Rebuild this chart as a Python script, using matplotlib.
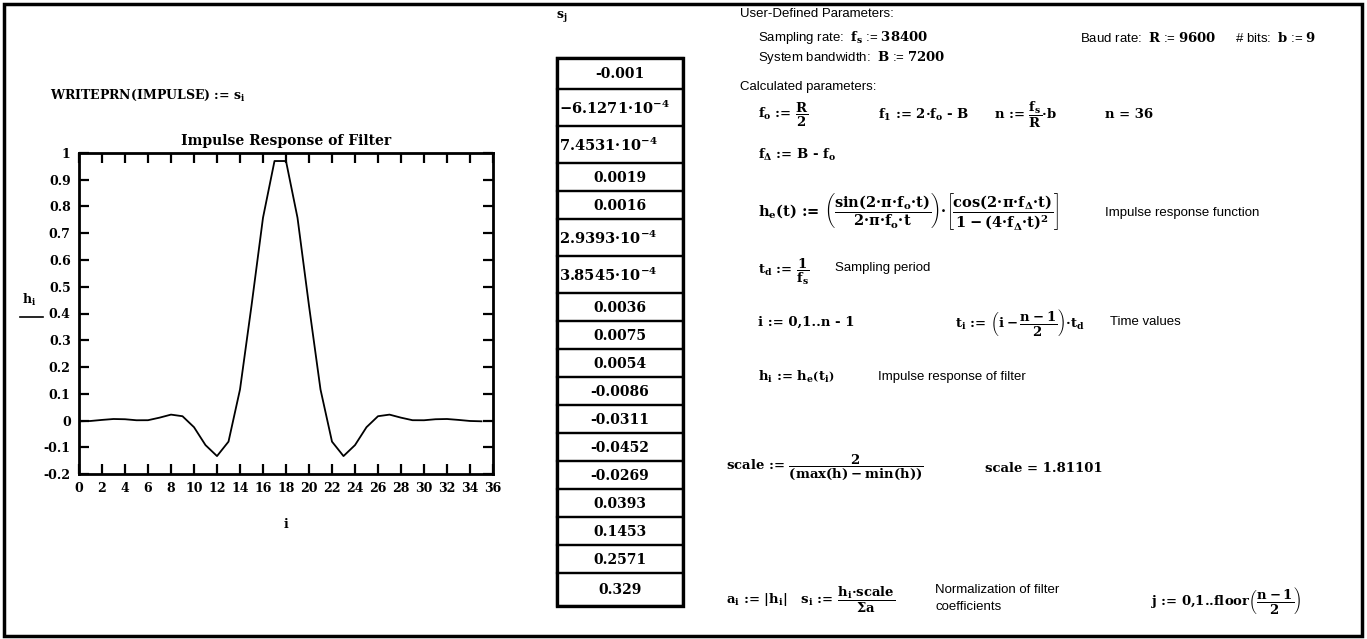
import matplotlib
matplotlib.use("Agg")
import matplotlib.pyplot as plt
from matplotlib.patches import Rectangle


# impulse response h_i, i = 0..35
i_values = list(range(36))
h_values = [-0.003, -0.0018, 0.0022, 0.0056, 0.0047, 0.0009, 0.0011, 0.0106, 0.022,
            0.016, -0.025, -0.092, -0.133, -0.079, 0.116, 0.429, 0.758, 0.970,
            0.970, 0.758, 0.429, 0.116, -0.079, -0.133, -0.092, -0.025, 0.016,
            0.022, 0.0106, 0.0011, 0.0009, 0.0047, 0.0056, 0.0022, -0.0018, -0.003]

# normalized coefficients s_j shown in the table
s_values = [-0.001, -6.1271e-4, 7.4531e-4, 0.0019, 0.0016, 2.9393e-4, 3.8545e-4,
            0.0036, 0.0075, 0.0054, -0.0086, -0.0311, -0.0452, -0.0269, 0.0393,
            0.1453, 0.2571, 0.329]

x_ticks = list(range(0, 37, 2))
y_ticks = [-0.2, -0.1, 0, 0.1, 0.2, 0.3, 0.4, 0.5, 0.6, 0.7, 0.8, 0.9, 1]
y_ticklabels = ['-0.2', '-0.1', '0', '0.1', '0.2', '0.3', '0.4', '0.5', '0.6',
                '0.7', '0.8', '0.9', '1']

plt.rcParams['mathtext.fontset'] = 'custom'
plt.rcParams['mathtext.rm'] = 'DejaVu Serif:bold'
plt.rcParams['mathtext.it'] = 'DejaVu Serif:bold'
plt.rcParams['mathtext.bf'] = 'DejaVu Serif:bold'
plt.rcParams['mathtext.sf'] = 'DejaVu Serif:bold'
plt.rcParams['mathtext.default'] = 'rm'

W, H = 1367, 639
fig = plt.figure(figsize=(W / 100, H / 100), dpi=100)

# page-sized axes in pixel coordinates for the worksheet text
page = fig.add_axes([0, 0, 1, 1])
page.set_xlim(0, W)
page.set_ylim(H, 0)
page.axis('off')
page.add_patch(Rectangle((4, 4), 1358, 632, fill=False, lw=2.5, color='black'))

SERIF = 'DejaVu Serif'
SANS = 'Liberation Sans'
D = '\u00b7'  # Mathcad multiplication dot

def stext(x, y, s, size=9.5, **kw):
    page.text(x, y, s, family=SANS, fontsize=size, va='center', ha='left', **kw)

def mtext(x, y, s, size=9.5, **kw):
    page.text(x, y, s, family=SERIF, fontweight='bold', fontsize=size,
              va='center', ha='left', **kw)

# --- plot ---
ax = fig.add_axes([79 / W, (H - 474) / H, 414 / W, 321 / H])
ax.plot(i_values, h_values, color='black', lw=1.3)
ax.set_xlim(0, 36)
ax.set_ylim(-0.2, 1)
ax.set_xticks(x_ticks)
ax.set_yticks(y_ticks)
ax.set_yticklabels(y_ticklabels)
ax.tick_params(direction='in', length=7, width=1.6, top=True, right=True,
               labelsize=9, pad=6)
for lab in ax.get_xticklabels() + ax.get_yticklabels():
    lab.set_family(SERIF)
    lab.set_fontweight('bold')
for sp in ax.spines.values():
    sp.set_linewidth(2)
ax.set_title('Impulse Response of Filter', family=SERIF, fontweight='bold',
             fontsize=10, pad=6)

mtext(283, 524, '$i$', size=9)
mtext(22, 300, '$h_i$', size=9)
page.plot([20, 43], [317, 317], color='black', lw=1.2)

mtext(50, 95, 'WRITEPRN(IMPULSE) := $s_i$', size=9)

# --- table of s_j ---
mtext(556, 17, '$s_j$', size=9)
row_h = []
for k, v in enumerate(s_values):
    if abs(v) < 0.001:
        row_h.append(37)
    elif k == 0:
        row_h.append(31)
    elif k == len(s_values) - 1:
        row_h.append(33)
    else:
        row_h.append(28)
top = 58
tl, tr = 557, 683
for v, rh in zip(s_values, row_h):
    page.add_patch(Rectangle((tl, top), tr - tl, rh, fill=False, lw=1.6, color='black'))
    cy = top + rh / 2 + 1
    if abs(v) < 0.001:
        mtext(tl + 2, cy, '$%.4f%s10^{-4}$' % (v * 1e4, D), size=10.5)
    else:
        page.text((tl + tr) / 2, cy, '%g' % v, family=SERIF, fontweight='bold',
                  fontsize=10, ha='center', va='center')
    top += rh
page.add_patch(Rectangle((tl, 58), tr - tl, top - 58, fill=False, lw=2.4, color='black'))

# --- parameters ---
stext(740, 14, 'User-Defined Parameters:')
stext(758, 38, 'Sampling rate:  $f_s$ := $38400$')
stext(1080, 38, 'Baud rate:  $R$ := $9600$')
stext(1235, 38, '# bits:  $b$ := $9$')
stext(758, 58, 'System bandwidth:  $B$ := $7200$')
stext(740, 87, 'Calculated parameters:')

mtext(758, 115, r'$f_o$ := $\dfrac{R}{2}$')
mtext(878, 115, '$f_1$ := 2%s$f_o$ - B' % D)
mtext(994, 115, r'n := $\dfrac{f_s}{R}$%sb' % D)
mtext(1105, 115, 'n = 36')
mtext(758, 155, r'$f_\Delta$ := B - $f_o$')

mtext(758, 212, r'$h_e$(t) := $\left(\dfrac{\sin(2{d}\pi{d}f_o{d}t)}{{2{d}\pi{d}f_o{d}t}}\right)'
                r'{d}\left[\dfrac{{\cos(2{d}\pi{d}f_\Delta{d}t)}}{{1 - (4{d}f_\Delta{d}t)^2}}\right]$'
                .replace('{d}', D).replace('{{', '{').replace('}}', '}'), size=10.5)
stext(1105, 213, 'Impulse response function')

mtext(758, 272, r'$t_d$ := $\dfrac{1}{f_s}$')
stext(835, 268, 'Sampling period')

mtext(758, 322, 'i := 0,1..n - 1')
mtext(955, 322, r'$t_i$ := $\left(i - \dfrac{n - 1}{2}\right)%st_d$' % D)
stext(1110, 322, 'Time values')

mtext(758, 377, r'$h_i$ := $h_e\left(t_i\right)$')
stext(878, 377, 'Impulse response of filter')

mtext(726, 467, r'scale := $\dfrac{2}{(\mathrm{max}(h) - \mathrm{min}(h))}$')
mtext(985, 468, 'scale = 1.81101')

mtext(726, 600, r'$a_i$ := $|h_i|$   $s_i$ := $\dfrac{h_i%s\mathrm{scale}}{\Sigma a}$' % D)
stext(935, 590, 'Normalization of filter')
stext(935, 607, 'coefficients')
mtext(1150, 600, r'j := 0,1..floor$\left(\dfrac{n - 1}{2}\right)$')

fig.savefig('out.png', dpi=100)
